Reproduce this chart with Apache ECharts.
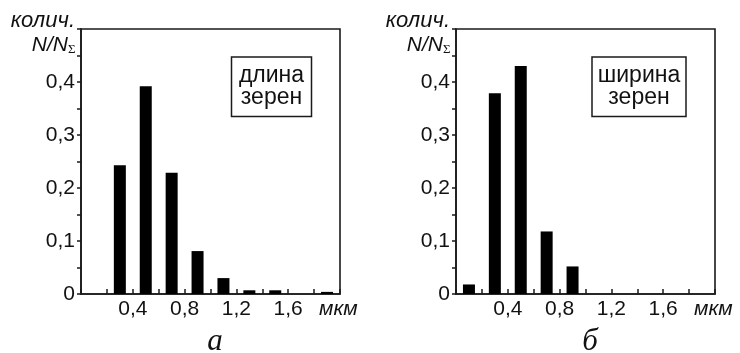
<!DOCTYPE html>
<html>
<head>
<meta charset="utf-8">
<script src="https://cdn.jsdelivr.net/npm/echarts@6/dist/echarts.min.js"></script>
<style>
  html, body { margin: 0; padding: 0; background: #fff; }
  #chart { width: 740px; height: 353px; }
</style>
</head>
<body>
<div id="chart"></div>
<script>
// центры интервалов (мкм) и доли N/NΣ
const binsA = [0.3, 0.5, 0.7, 0.9, 1.1, 1.3, 1.5, 1.7, 1.9]
const lengthShare = [0.243, 0.392, 0.229, 0.081, 0.030, 0.007, 0.007, 0, 0.004]
const binsB = [0.1, 0.3, 0.5, 0.7, 0.9]
const widthShare = [0.018, 0.379, 0.430, 0.118, 0.052]
const xTickLabels = [0.4, 0.8, 1.2, 1.6]
const yTickLabels = [0, 0.1, 0.2, 0.3, 0.4]
const panelNames = ['а', 'б']
const legendNames = ['длина\nзерен', 'ширина\nзерен']

const LINE = '#1a1a1a'
const SANS = '"Liberation Sans", Arial, sans-serif'
const SERIF = '"Liberation Serif", "Times New Roman", serif'

const gridLeft = [81, 456]
const fmt = (v) => {
  const r = Math.round(v * 100) / 100
  return r === 0 ? '0' : String(r).replace('.', ',')
}
const hasLabel = (list, v) => list.some(t => Math.abs(t - v) < 1e-6)

function xAxisFor(i) {
  return {
    gridIndex: i,
    type: 'value',
    min: 0,
    max: 2,
    interval: 0.2,
    axisLine: { show: true, lineStyle: { color: LINE, width: 1.6 } },
    axisTick: { show: true, inside: true, length: 5, lineStyle: { color: LINE, width: 1.5 } },
    axisLabel: {
      margin: 5,
      fontFamily: SANS,
      fontSize: 21,
      color: '#111',
      formatter: v => hasLabel(xTickLabels, v) ? fmt(v) : ''
    },
    splitLine: { show: false }
  }
}

function yAxisFor(i) {
  return {
    gridIndex: i,
    type: 'value',
    min: 0,
    max: 0.5,
    interval: 0.05,
    axisLine: { show: true, lineStyle: { color: LINE, width: 1.6 } },
    axisTick: { show: true, inside: false, length: 4, lineStyle: { color: LINE, width: 1.5 } },
    axisLabel: {
      margin: 6,
      fontFamily: SANS,
      fontSize: 21,
      color: '#111',
      formatter: v => hasLabel(yTickLabels, v) ? fmt(v) : ''
    },
    splitLine: { show: false }
  }
}

function panelGraphics(i) {
  const ax = gridLeft[i]
  const boxW = i === 0 ? 80 : 94
  const boxX = i === 0 ? 231.5 : 592
  return [
    { type: 'text', x: ax - 6, y: 21,
      style: { text: 'колич.', font: 'italic 22px ' + SANS, fill: '#111', align: 'right', verticalAlign: 'middle' } },
    { type: 'text', x: ax - 13, y: 45,
      style: { text: 'N/N', font: 'italic 21px ' + SANS, fill: '#111', align: 'right', verticalAlign: 'middle' } },
    { type: 'text', x: ax - 13, y: 50,
      style: { text: 'Σ', font: '13px ' + SERIF, fill: '#111', align: 'left', verticalAlign: 'middle' } },
    { type: 'text', x: ax + 238, y: 309,
      style: { text: 'мкм', font: 'italic 21px ' + SANS, fill: '#111', align: 'left', verticalAlign: 'middle' } },
    { type: 'text', x: ax + 134, y: 342,
      style: { text: panelNames[i], font: 'italic 31px ' + SERIF, fill: '#111', align: 'center', verticalAlign: 'middle' } },
    { type: 'rect', shape: { x: boxX, y: 57, width: boxW, height: 59.5 },
      style: { fill: '#fff', stroke: LINE, lineWidth: 1.5 } },
    { type: 'text', x: boxX + boxW / 2, y: 87,
      style: { text: legendNames[i], font: '23px ' + SANS, lineHeight: 22, fill: '#111', align: 'center', verticalAlign: 'middle' } }
  ]
}

const chart = echarts.init(document.getElementById('chart'))
chart.setOption({
  animation: false,
  backgroundColor: '#fff',
  grid: [
    { left: gridLeft[0], top: 29, width: 259, height: 265, show: true, borderColor: LINE, borderWidth: 1.6, backgroundColor: 'transparent' },
    { left: gridLeft[1], top: 29, width: 259, height: 265, show: true, borderColor: LINE, borderWidth: 1.6, backgroundColor: 'transparent' }
  ],
  xAxis: [xAxisFor(0), xAxisFor(1)],
  yAxis: [yAxisFor(0), yAxisFor(1)],
  series: [
    {
      name: 'длина',
      type: 'bar',
      xAxisIndex: 0,
      yAxisIndex: 0,
      barWidth: 12,
      itemStyle: { color: '#000' },
      data: binsA.map((x, k) => [x, lengthShare[k]])
    },
    {
      name: 'ширина',
      type: 'bar',
      xAxisIndex: 1,
      yAxisIndex: 1,
      barWidth: 12,
      itemStyle: { color: '#000' },
      data: binsB.map((x, k) => [x, widthShare[k]])
    }
  ],
  graphic: panelGraphics(0).concat(panelGraphics(1))
})
</script>
</body>
</html>
